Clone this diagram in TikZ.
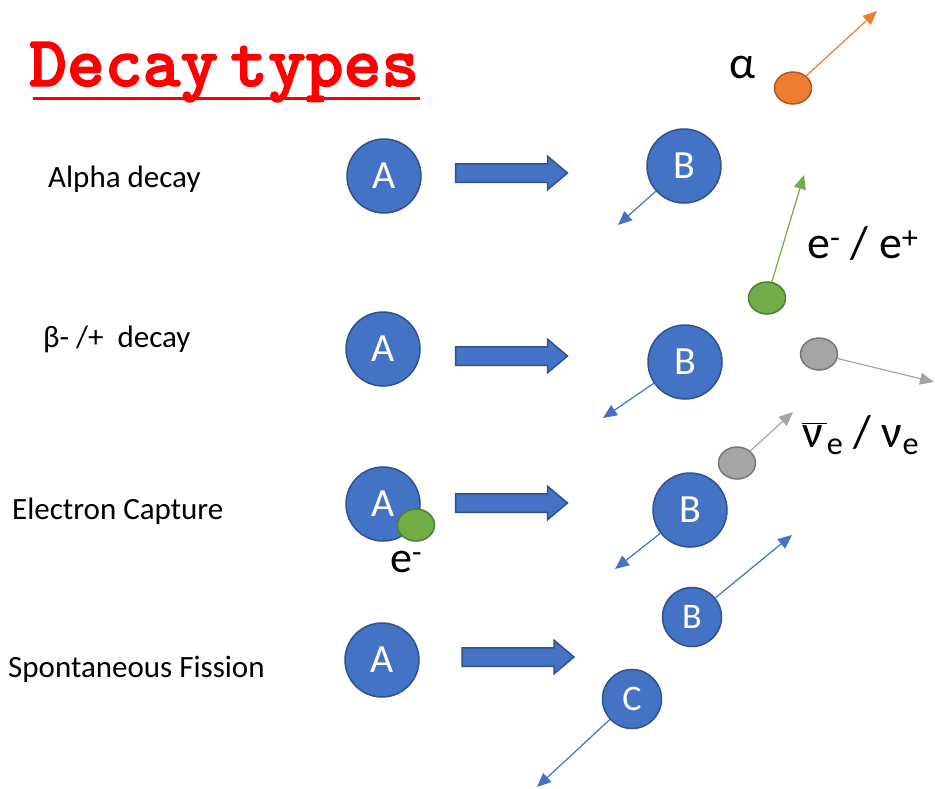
\documentclass[tikz,border=0pt]{standalone}
\usepackage{fontspec}
\setmainfont{Carlito}
\newfontfamily\titlefont{lmmonolt10-bold}[Extension=.otf, FakeBold=2]
\usetikzlibrary{arrows.meta,shapes.arrows,shapes.geometric}
\definecolor{nblue}{HTML}{4472C4}
\definecolor{nblueb}{HTML}{2F528F}
\definecolor{aorange}{HTML}{ED7D31}
\definecolor{aorangeb}{HTML}{AE5A21}
\definecolor{egreen}{HTML}{70AD47}
\definecolor{egreenb}{HTML}{507E32}
\definecolor{ngray}{HTML}{A5A5A5}
\definecolor{ngrayb}{HTML}{787878}
\begin{document}
\begin{tikzpicture}[x=1pt,y=-1pt,
  nucleus/.style={circle, fill=nblue, draw=nblueb, line width=1.5pt, text=white,
    minimum size=74pt, inner sep=0pt, font=\fontsize{40}{40}\selectfont},
  smallnuc/.style={nucleus, minimum size=59pt, font=\fontsize{36}{36}\selectfont},
  particle/.style={ellipse, minimum width=37pt, minimum height=32pt, inner sep=0pt, line width=1.5pt},
  alphap/.style={particle, fill=aorange, draw=aorangeb},
  elecp/.style={particle, fill=egreen, draw=egreenb},
  neutp/.style={particle, fill=ngray, draw=ngrayb},
  bigarrow/.style={single arrow, fill=nblue, draw=nblueb, line width=1.5pt,
    minimum height=112pt, inner xsep=0pt, inner ysep=8.5pt,
    single arrow head extend=7.5pt, single arrow tip angle=80},
  thinarrow/.style={line width=1.2pt, -{Triangle[length=14pt,width=12pt]}},
  rowlabel/.style={anchor=base west, inner sep=0pt, font=\fontsize{31}{31}\selectfont},
  partlabel/.style={anchor=base west, inner sep=0pt, font=\fontsize{46}{46}\selectfont}
]
\useasboundingbox (0,0) rectangle (935,788);

% title
\node[anchor=base west, inner sep=0pt, text=red] (title) at (29,86)
  {\titlefont\fontsize{72}{72}\selectfont Decay\kern12pt{}types};
\draw[red, line width=3pt] ([yshift=-12pt,xshift=4pt]title.base west) -- ([yshift=-12pt,xshift=1pt]title.base east);

% row labels
\node[rowlabel] (l1) at (48,187) {Alpha decay};
\node[rowlabel] (l2) at (43,347) {β- /+\ \ decay};
\node[rowlabel] (l3) at (12,519) {Electron Capture};
\node[rowlabel] (l4) at (8,677) {Spontaneous Fission};

% parents
\node[nucleus] (A1) at (384,176) {A};
\node[nucleus] (A2) at (383,349) {A};
\node[nucleus] (A3) at (383,504) {A};
\node[nucleus] (A4) at (382,660) {A};

% block arrows
\node[bigarrow] (ar1) at (506,173) {};
\node[bigarrow] (ar2) at (506,356) {};
\node[bigarrow] (ar3) at (506,503) {};
\node[bigarrow] (ar4) at (512.5,657) {};

% daughters
\node[nucleus] (B1) at (684,166) {B};
\node[nucleus] (B2) at (685,362) {B};
\node[nucleus] (B3) at (690,510) {B};
\node[smallnuc] (B4) at (692,617) {B};
\node[smallnuc] (C4) at (632,699) {C};

% recoil arrows
\coordinate (t1) at (618,225);
\coordinate (t2) at (603,418);
\coordinate (t3) at (615,569);
\coordinate (t4) at (792,535);
\coordinate (t5) at (537,787);
\draw[thinarrow, nblue] (B1) -- (t1);
\draw[thinarrow, nblue] (B2) -- (t2);
\draw[thinarrow, nblue] (B3) -- (t3);
\draw[thinarrow, nblue] (B4) -- (t4);
\draw[thinarrow, nblue] (C4) -- (t5);

% particles
\node[alphap] (alpha) at (793,88) {};
\coordinate (ta) at (877,11);
\draw[thinarrow, aorange] (alpha) -- (ta);
\node[partlabel] (alab) at (729,78) {α};

\node[elecp] (beta) at (767,298) {};
\coordinate (tb) at (804,175);
\draw[thinarrow, egreen] (beta) -- (tb);
\node[partlabel] (blab) at (807,258) {e\textsuperscript{-} / e\textsuperscript{+}};

\node[neutp] (nu2) at (819,354) {};
\coordinate (tn2) at (934,382);
\draw[thinarrow, ngray] (nu2) -- (tn2);

\node[neutp] (nu3) at (737,463) {};
\coordinate (tn3) at (793,412);
\draw[thinarrow, ngray] (nu3) -- (tn3);
\node[partlabel] (nulab) at (802,447) {\(\overline{\mbox{ν\kern4pt}}\)\textsubscript{e} / ν\textsubscript{e}};

\node[elecp] (ec) at (416,525) {};
\node[partlabel, font=\fontsize{44}{44}\selectfont] (eclab) at (390,572) {e\textsuperscript{-}};
\end{tikzpicture}
\end{document}
